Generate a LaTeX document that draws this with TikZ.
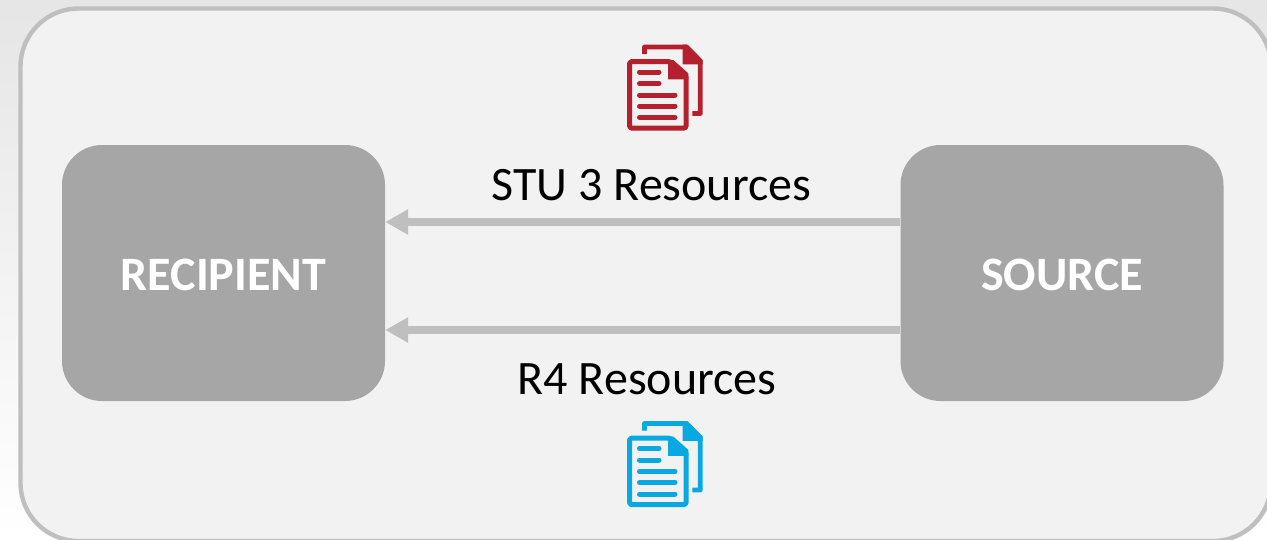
\documentclass[tikz,border=0pt]{standalone}
\usepackage{fontspec}
\setmainfont{Carlito}
\usetikzlibrary{arrows.meta}
\definecolor{panelfill}{HTML}{F2F2F2}
\definecolor{paneledge}{HTML}{BFBFBF}
\definecolor{boxfill}{HTML}{A6A6A6}
\definecolor{linkcol}{HTML}{BFBFBF}
\definecolor{redicon}{HTML}{B5202E}
\definecolor{blueicon}{HTML}{0AA8E0}
\tikzset{
  x=1pt,y=-1pt,
  party/.style={fill=boxfill,rounded corners=40pt,minimum width=323pt,minimum height=256pt,inner sep=0pt,text height=34pt,text depth=0pt,text=white,font=\bfseries\fontsize{48}{52}\selectfont},
  flow/.style={draw=linkcol,line width=8pt,-{Triangle[length=23pt,width=24pt,fill=linkcol]},shorten >=0pt},
  lab/.style={inner sep=0pt,anchor=base,text=black,font=\fontsize{48}{52}\selectfont},
  pics/docs/.style={code={
    \draw[#1,line width=5pt,line join=round,rounded corners=1.5pt] (29.6,31.7) -- (70.5,31.7) -- (86,45.5) -- (86,98) -- (29.6,98) -- cycle;
    \fill[#1] (68,30) -- (73.3,30) -- (88.3,43.3) -- (88.3,49.3) -- (68,49.3) -- cycle;
    \draw[#1,line width=5pt,line cap=round] (39.5,42) -- (59,42) (39.5,53.5) -- (59,53.5) (39.5,65) -- (75,65) (39.5,76) -- (75,76) (39.5,87.5) -- (75,87.5);
    \draw[#1,line width=4.8pt,line join=round,line cap=butt] (44.5,24) -- (44.5,17) -- (86.5,17) -- (100.3,31) -- (100.3,83.5) -- (92.3,83.5);
    \fill[#1] (82.7,14.7) -- (87.3,14.7) -- (102.7,30) -- (102.7,34.3) -- (82.7,34.3) -- cycle;
  }}
}
\begin{document}
\begin{tikzpicture}
\useasboundingbox (0,0) rectangle (1267,539);
\shade[top color=black!10,bottom color=white] (0,0) rectangle (1267,539);
\draw[draw=paneledge,fill=panelfill,line width=4.4pt,rounded corners=58pt] (20.5,8.5) rectangle (1271,541);
\node[party] (recipient) at (223.5,273) {RECIPIENT};
\node[party] (source) at (1062,273) {SOURCE};
\draw[flow] ([yshift=51pt]source.west) -- ([yshift=51pt]recipient.east);
\draw[flow] ([yshift=-57pt]source.west) -- ([yshift=-57pt]recipient.east);
\node[lab] (stu) at (651.5,200) {STU 3 Resources};
\node[lab] (r4) at (647,394) {R4 Resources};
\pic at (600,30) {docs=redicon};
\pic at (600,406.5) {docs=blueicon};
\end{tikzpicture}
\end{document}
